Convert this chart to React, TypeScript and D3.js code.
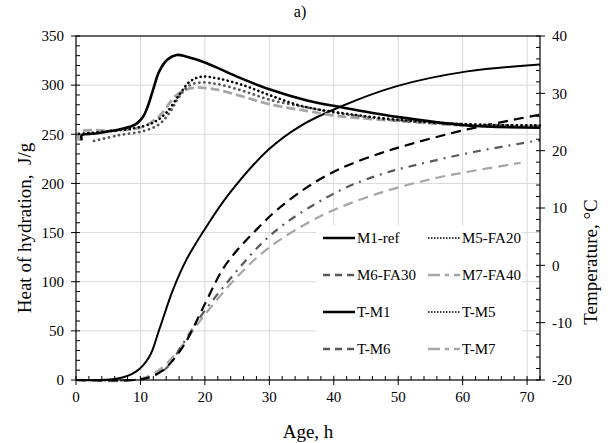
import React from "react";
import * as d3 from "d3";

const W = 608, H = 443;
const M = { left: 76, right: 540, top: 36, bottom: 380 };

const xTicks = [0, 10, 20, 30, 40, 50, 60, 70];
const yLeftTicks = [0, 50, 100, 150, 200, 250, 300, 350];
const yRightTicks = [-20, -10, 0, 10, 20, 30, 40];

// Heat of hydration (J/g)
const m1Age = [0, 6.5, 9.3, 11.4, 12.9, 15, 17.1, 19.9, 23.8, 29.8, 34.8, 41, 49.8, 60.7, 72];
const m1Heat = [0, 1.5, 8.5, 24, 51, 91, 122, 152.6, 189.8, 234, 258.4, 278, 299, 314, 321];
const m5Age = [0, 9, 11, 13.5, 16.6, 19.9, 22.8, 25.4, 28, 31, 36, 41, 47.2, 51.9, 60.7, 72];
const m5Heat = [0, 0, 2, 10, 34, 76, 113, 135, 153, 172, 196.7, 215, 230.6, 240, 255, 270];
const m6Age = [0, 9, 11, 14, 16.6, 19.7, 23.3, 28.5, 32.6, 41, 47.7, 52.9, 61.7, 72];
const m6Heat = [0, 0, 2, 12, 37, 68, 98, 137, 160, 193, 210, 219, 232, 244];
const m7Age = [0, 9, 12.4, 15.5, 19.7, 25, 30, 36, 40, 47.7, 55.5, 60.1, 69];
const m7Heat = [0, 0, 8, 27, 64, 105, 135, 160, 173, 191.5, 205, 211, 221];

// Temperature (°C)
const tm1Age = [0.9, 0.9, 3, 6.7, 8.5, 9.5, 10.4, 11.1, 11.9, 12.9, 14.2, 15.6, 17.2, 20.2, 24.8, 30, 36, 41, 49.8, 60.7, 72];
const tm1Temp = [21.8, 22.7, 23.0, 23.7, 24.2, 24.8, 25.9, 27.6, 30.4, 33.8, 35.9, 36.7, 36.4, 35.3, 33.0, 30.7, 28.7, 27.6, 25.9, 24.4, 24.0];
const tm5Age = [0.5, 5, 9, 12, 14, 16, 17.6, 19.4, 22, 26, 30, 35, 41, 49.8, 60.7, 72];
const tm5Temp = [22.9, 23.4, 23.9, 24.9, 26.6, 29.7, 32.0, 32.9, 32.6, 31.4, 29.7, 27.8, 26.6, 25.4, 24.6, 24.4];
const tm6Age = [2.8, 6.7, 10.4, 12.9, 14.5, 16, 17.5, 19.3, 22, 26, 30, 36, 41, 49.8, 60.7, 72];
const tm6Temp = [21.7, 22.7, 23.4, 24.6, 26.6, 29.4, 31.3, 31.9, 31.6, 30.4, 28.9, 27.5, 26.5, 25.3, 24.6, 24.3];
const tm7Age = [0.5, 0.5, 6.7, 10.4, 12.9, 15.5, 17.2, 19.2, 22, 26, 30, 36, 41, 49.8, 60.7, 72];
const tm7Temp = [21.7, 23.2, 23.5, 24.2, 26.0, 29.6, 30.7, 31.0, 30.6, 29.4, 28.1, 26.9, 26.0, 25.2, 24.4, 24.3];

const x = d3.scaleLinear().domain([0, 72]).range([M.left, M.right]);
const yL = d3.scaleLinear().domain([0, 350]).range([M.bottom, M.top]);
const yR = d3.scaleLinear().domain([-20, 40]).range([M.bottom, M.top]);

const mk = (ages: number[], vals: number[], ys: d3.ScaleLinear<number, number>) =>
  d3.line<number>().x((_, i) => x(ages[i])).y((v) => ys(v)).curve(d3.curveCatmullRom.alpha(0.5))(vals) || "";

type S = { d: string; stroke: string; w: number; dash?: string; cap?: string };
const series: S[] = [
  { d: mk(m7Age, m7Heat, yL), stroke: "#a6a6a6", w: 2.2, dash: "10,6" },
  { d: mk(m6Age, m6Heat, yL), stroke: "#595959", w: 2.2, dash: "8,6,2,6" },
  { d: mk(m5Age, m5Heat, yL), stroke: "#000", w: 2.2, dash: "10,6" },
  { d: mk(m1Age, m1Heat, yL), stroke: "#000", w: 2 },
  { d: mk(tm7Age, tm7Temp, yR), stroke: "#a6a6a6", w: 2.8, dash: "9,4" },
  { d: mk(tm6Age, tm6Temp, yR), stroke: "#595959", w: 2.8, dash: "0.1,5", cap: "round" },
  { d: mk(tm5Age, tm5Temp, yR), stroke: "#000", w: 2.6, dash: "0.1,4.5", cap: "round" },
  { d: mk(tm1Age, tm1Temp, yR), stroke: "#000", w: 2.6 },
];

const legendNames = ["M1-ref", "M5-FA20", "M6-FA30", "M7-FA40", "T-M1", "T-M5", "T-M6", "T-M7"];
const legendStyles: { stroke: string; w: number; dash?: string }[] = [
  { stroke: "#000", w: 2.5 },
  { stroke: "#000", w: 1.5, dash: "1.5,1.5" },
  { stroke: "#595959", w: 2.5, dash: "7,5" },
  { stroke: "#a6a6a6", w: 2.5, dash: "12,5,4,5" },
  { stroke: "#000", w: 2.5 },
  { stroke: "#000", w: 1.5, dash: "1.5,1.5" },
  { stroke: "#595959", w: 2.5, dash: "7,5" },
  { stroke: "#a6a6a6", w: 2.5, dash: "12,5,4,5" },
];

const font = "'Liberation Serif', 'Times New Roman', serif";

export default function App() {
  const xMinor = d3.range(0, 72.01, 2);
  const yLMinor = d3.range(0, 350.01, 10);
  const yRMinor = d3.range(-20, 40.01, 2);
  return (
    <svg width={W} height={H} style={{ position: "absolute", left: 0, top: 0, background: "#fff", fontFamily: font }}>
      <rect width={W} height={H} fill="#fff" />
      {yLeftTicks.filter((t) => t > 0 && t < 350).map((t) => (
        <line key={"gy" + t} x1={M.left} x2={M.right} y1={yL(t)} y2={yL(t)} stroke="#d9d9d9" strokeWidth={1} />
      ))}
      {xTicks.filter((t) => t > 0).map((t) => (
        <line key={"gx" + t} x1={x(t)} x2={x(t)} y1={M.top} y2={M.bottom} stroke="#d9d9d9" strokeWidth={1} />
      ))}
      <rect x={316} y={225} width={206} height={150} fill="#fff" />
      {series.map((s, i) => (
        <path key={"s" + i} d={s.d} fill="none" stroke={s.stroke} strokeWidth={s.w}
          strokeDasharray={s.dash} strokeLinecap={(s.cap as any) || "butt"} strokeLinejoin="round" />
      ))}
      <rect x={M.left} y={M.top} width={M.right - M.left} height={M.bottom - M.top} fill="none" stroke="#000" strokeWidth={1.2} />
      {yLMinor.map((t) => (
        <line key={"lm" + t} x1={M.left} x2={M.left + 4} y1={yL(t)} y2={yL(t)} stroke="#000" />
      ))}
      {yLeftTicks.map((t) => (
        <g key={"lt" + t}>
          <line x1={M.left - 5} x2={M.left} y1={yL(t)} y2={yL(t)} stroke="#000" />
          <text x={M.left - 12} y={yL(t)} dy="0.35em" textAnchor="end" fontSize={15} fontFamily={font} fill="#000">{t}</text>
        </g>
      ))}
      {yRMinor.map((t) => (
        <line key={"rm" + t} x1={M.right - 4} x2={M.right} y1={yR(t)} y2={yR(t)} stroke="#000" />
      ))}
      {yRightTicks.map((t) => (
        <g key={"rt" + t}>
          <line x1={M.right} x2={M.right + 5} y1={yR(t)} y2={yR(t)} stroke="#000" />
          <text x={M.right + 12} y={yR(t)} dy="0.35em" textAnchor="start" fontSize={15} fontFamily={font} fill="#000">{t}</text>
        </g>
      ))}
      {xMinor.map((t) => (
        <line key={"xm" + t} x1={x(t)} x2={x(t)} y1={M.bottom - 4} y2={M.bottom} stroke="#000" />
      ))}
      {xTicks.map((t) => (
        <g key={"xt" + t}>
          <line x1={x(t)} x2={x(t)} y1={M.bottom} y2={M.bottom + 5} stroke="#000" />
          <text x={x(t)} y={M.bottom + 17} dy="0.35em" textAnchor="middle" fontSize={15} fontFamily={font} fill="#000">{t}</text>
        </g>
      ))}
      <text x={300} y={17} textAnchor="middle" fontSize={16} fontFamily={font} fill="#000">a)</text>
      <text x={(M.left + M.right) / 2} y={438} textAnchor="middle" fontSize={19} fontFamily={font} fill="#000">Age, h</text>
      <text transform={`translate(24,228) rotate(-90)`} textAnchor="middle" dy="0.35em" fontSize={19} fontFamily={font} fill="#000" style={{ whiteSpace: "pre" }}>
        Heat of hydration,  J/g
      </text>
      <text transform={`translate(590,262) rotate(-90)`} textAnchor="middle" dy="0.35em" fontSize={19} fontFamily={font} fill="#000">
        Temperature, °C
      </text>
      {legendNames.map((n, i) => {
        const col = i % 2, row = Math.floor(i / 2);
        const lx = col === 0 ? 323 : 428;
        const ly = 238 + row * 37;
        const st = legendStyles[i];
        return (
          <g key={"lg" + i}>
            <line x1={lx} x2={lx + 32} y1={ly} y2={ly} stroke={st.stroke} strokeWidth={st.w} strokeDasharray={st.dash} />
            <text x={lx + 34} y={ly} dy="0.35em" fontSize={15} fontFamily={font} fill="#000">{n}</text>
          </g>
        );
      })}
    </svg>
  );
}
